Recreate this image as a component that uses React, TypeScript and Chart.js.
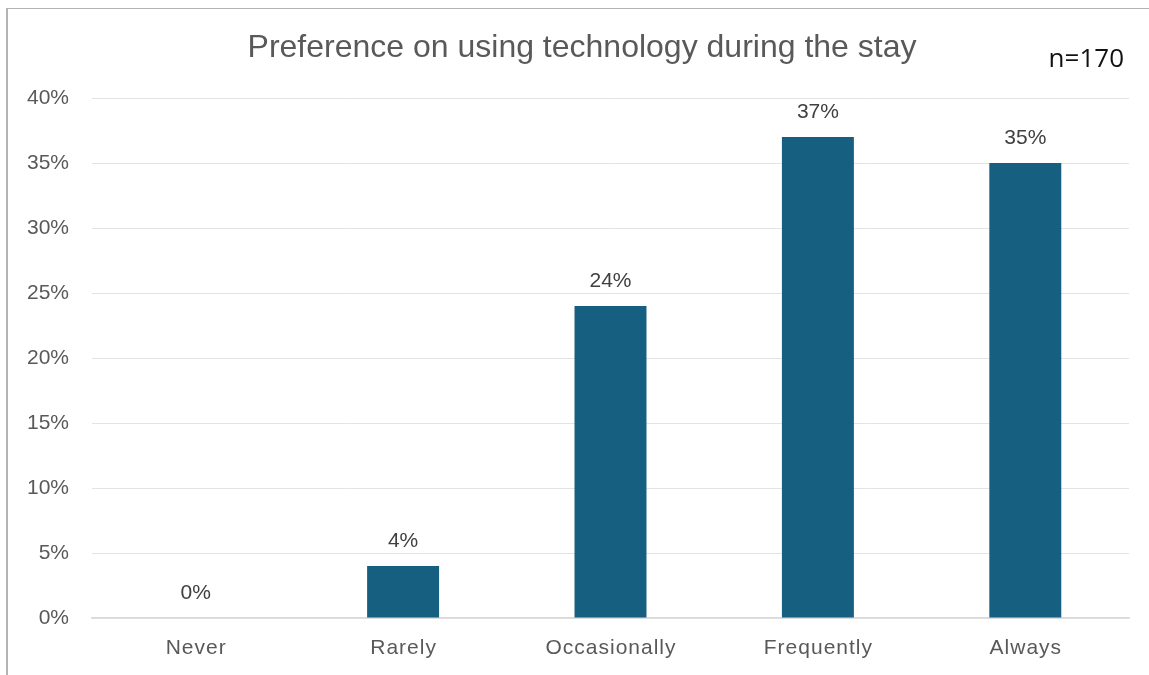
import React, { useEffect, useRef } from "react";
import { Chart, registerables } from "chart.js";

Chart.register(...registerables);

const categories = ["Never", "Rarely", "Occasionally", "Frequently", "Always"];
const percentValues = [0, 4, 24, 37, 35];
const yTickStep = 5;
const yMax = 40;
const titleText = "Preference on using technology during the stay";
const sampleText = "n=170";

const FONT = "'Liberation Sans', Arial, sans-serif";

const overlayPlugin = {
  id: "overlay",
  afterDatasetsDraw(chart: any) {
    const ctx = chart.ctx;
    ctx.save();
    // title
    ctx.fillStyle = "#595959";
    ctx.font = `32px ${FONT}`;
    ctx.textAlign = "center";
    ctx.textBaseline = "middle";
    ctx.fillText(titleText, 582, 48);
    // n label
    ctx.fillStyle = "#111111";
    ctx.font = `26px 'Open Sans', sans-serif`;
    ctx.textAlign = "right";
    ctx.fillText(sampleText, 1124, 60);
    // data labels
    const meta = chart.getDatasetMeta(0);
    ctx.fillStyle = "#404040";
    ctx.font = `21px ${FONT}`;
    ctx.textAlign = "center";
    meta.data.forEach((bar: any, i: number) => {
      ctx.fillText(`${percentValues[i]}%`, bar.x, bar.y - 25);
    });
    // x category labels
    const xs = chart.scales.x;
    ctx.fillStyle = "#595959";
    ctx.font = `21px ${FONT}`;
    (ctx as any).letterSpacing = "1px";
    categories.forEach((c, i) => {
      ctx.fillText(c, xs.getPixelForTick(i) + 0.5, 648);
    });
    ctx.restore();
  },
};

export default function App() {
  const ref = useRef<HTMLCanvasElement>(null);
  useEffect(() => {
    document.body.style.margin = "0";
    const chart = new Chart(ref.current!, {
      type: "bar",
      data: {
        labels: categories,
        datasets: [
          {
            data: percentValues,
            backgroundColor: "#165F80",
            barPercentage: 0.347,
            categoryPercentage: 1,
          },
        ],
      },
      options: {
        animation: false,
        responsive: false,
        maintainAspectRatio: false,
        layout: { padding: { top: 98, right: 20, left: 0, bottom: 0 } },
        plugins: {
          legend: { display: false },
          tooltip: { enabled: false },
          title: { display: false },
        },
        scales: {
          x: {
            afterFit: (s: any) => {
              s.height = 57;
            },
            grid: { display: false, drawTicks: false },
            border: { display: true, color: "#d9d9d9", width: 1.5 },
            ticks: { display: false },
          },
          y: {
            min: 0,
            max: yMax,
            afterFit: (s: any) => {
              s.width = 92;
            },
            grid: { color: "#e3e3e3", lineWidth: 1, drawTicks: false },
            border: { display: false },
            ticks: {
              stepSize: yTickStep,
              color: "#595959",
              font: { size: 21, family: FONT },
              padding: 23,
              callback: (v: any) => `${v}%`,
            },
          },
        },
      },
      plugins: [overlayPlugin],
    });
    return () => chart.destroy();
  }, []);
  return (
    <div style={{ position: "relative", width: 1149, height: 675, overflow: "hidden", background: "#fff" }}>
      <canvas ref={ref} width={1149} height={675} style={{ position: "absolute", left: 0, top: 0 }} />
      <div
        style={{
          position: "absolute",
          left: 6,
          top: 8,
          width: 1200,
          height: 700,
          borderLeft: "2px solid #b4b4b4",
          borderTop: "1.5px solid #b4b4b4",
          pointerEvents: "none",
        }}
      />
    </div>
  );
}
